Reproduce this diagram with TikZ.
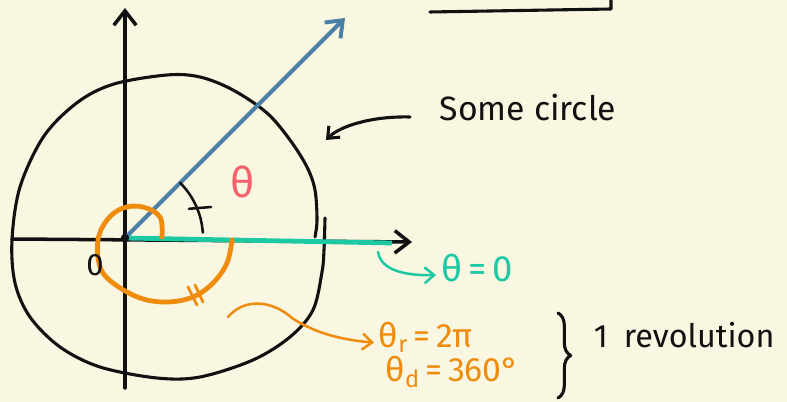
\documentclass[tikz,border=0pt]{standalone}
\usepackage{fontspec}
\setmainfont{Fira Sans}
\usepackage{tikz}
\usetikzlibrary{arrows.meta,decorations.pathreplacing}
\definecolor{Paper}{HTML}{F9F6E2}
\definecolor{Ink}{HTML}{111111}
\definecolor{Blue}{HTML}{4A7FA6}
\definecolor{Teal}{HTML}{1CC9A3}
\definecolor{Orange}{HTML}{F08C0C}
\definecolor{Pink}{HTML}{F4606B}

\begin{document}
\begin{tikzpicture}[
  >=Latex,
  every node/.style={font=\fontsize{24}{26}\selectfont},
  ink/.style={line width=2.2pt,line cap=round,line join=round,draw=Ink},
  axis/.style={line width=2.5pt,line cap=round,draw=Ink,-{Straight Barb[length=3.6mm,width=5.6mm]}},
  barb/.style={-{Straight Barb[length=2.4mm,width=4mm]}},
  note/.style={line width=1.8pt,line cap=round,barb}
]
  \fill[Paper] (0,0) rectangle (19.675,10.05);
  \useasboundingbox (0,0) rectangle (19.675,10.05);

  % corner of a box further up the page
  \draw[ink] (10.75,9.75) -- (15.275,9.825) -- (15.275,10.05);

  % the circle, one stroke with a gap on the right
  \draw[ink] plot[smooth,tension=0.55] coordinates {
    (8.125,4.60) (8.10,3.80) (8.05,3.25) (7.825,2.30) (7.25,1.625)
    (6.325,1.05) (5.00,0.625) (3.925,0.60) (2.50,0.875) (1.50,1.375)
    (0.75,2.125) (0.375,2.975) (0.30,4.05) (0.50,5.375) (1.10,6.65)
    (1.95,7.50) (2.85,7.95) (4.175,8.175) (5.00,8.125) (5.825,7.80)
    (6.675,7.225) (7.25,6.55) (7.675,5.875) (7.875,5.30) (7.925,4.55)
    (7.875,4.125)};

  % axes and the two rays
  \coordinate (O) at (3.125,4.10);
  \draw[axis] (3.125,0.35) -- (3.125,9.85);
  \draw[axis] (0.30,4.075) -- (10.30,4.00);
  \draw[line width=3.4pt,Teal] (O) -- (9.80,3.975);
  \draw[line width=2.8pt,line cap=round,Blue,-{Straight Barb[length=3.6mm,width=5.6mm]}]
    (O) -- (8.625,9.60);
  \fill[Ink] (O) circle (3pt);

  % angle mark
  \draw[ink,line width=1.8pt] (O) ++(45:1.95) arc[start angle=45,end angle=4,radius=1.95];
  \draw[ink,line width=1.8pt] (4.725,4.83) -- (5.275,4.875);
  \node[Pink,font=\fontsize{30}{32}\selectfont] (theta) at (6.075,5.50) {θ};

  % one full turn
  \draw[Orange,line width=3.4pt,line cap=round] plot[smooth,tension=0.6] coordinates {
    (4.05,4.125) (4.00,4.625) (3.575,4.875) (3.075,4.85) (2.675,4.55)
    (2.45,4.05) (2.50,3.375) (2.825,2.975) (3.50,2.60) (4.175,2.50)
    (4.825,2.625) (5.325,2.975) (5.675,3.475) (5.80,4.05)};
  \draw[Orange,line width=2pt,line cap=round] (4.70,2.875) -- (4.925,2.425);
  \draw[Orange,line width=2pt,line cap=round] (4.875,2.925) -- (5.075,2.50);
  \node[text=Ink,font=\fontsize{22}{24}\selectfont] (zero) at (2.375,3.42) {0};

  % labels
  \node[text=Ink] (circlelbl) at (13.2,7.35) {Some circle};
  \coordinate (circletail) at (10.25,7.125);
  \coordinate (circletip) at (8.15,6.55);
  \draw[ink,barb] (circletail) .. controls (9.3,7.15) and (8.5,6.9) .. (circletip);

  \node[Teal,font=\fontsize{26}{28}\selectfont] (zerolbl) at (11.925,3.35) {θ\,=\,0};
  \coordinate (zerotail) at (9.45,3.75);
  \draw[note,Teal] (zerotail) .. controls (9.5,3.4) and (9.9,3.15) .. ([yshift=-5pt]zerolbl.west);

  \node[Orange,anchor=west] (radlbl) at (9.35,1.625) {θ\textsubscript{r}\,=\,2π};
  \node[Orange,anchor=west] (deglbl) at (9.52,0.75) {θ\textsubscript{d}\,=\,360°};
  \coordinate (turntail) at (5.70,2.125);
  \draw[note,Orange] (turntail) .. controls (6.1,2.6) and (6.8,2.55) .. (7.3,2.1)
    .. controls (7.9,1.7) and (8.6,1.55) .. ([yshift=-4pt]radlbl.west);

  \draw[ink,decorate,decoration={brace,amplitude=9pt}] (13.95,2.225) -- (13.95,0.10);
  \node[text=Ink,anchor=west,font=\fontsize{23}{25}\selectfont] (revlbl) at (14.72,1.675)
    {1\enspace revolution};
\end{tikzpicture}
\end{document}
